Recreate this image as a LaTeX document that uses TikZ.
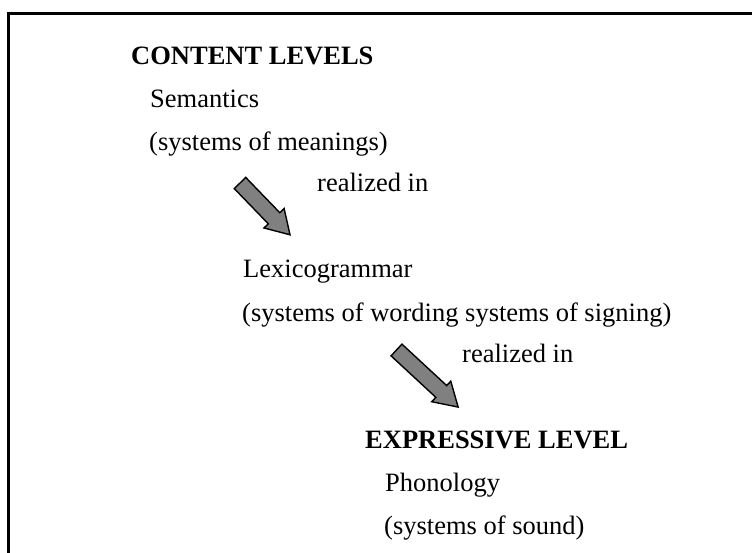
\documentclass[tikz,border=0pt]{standalone}
\usepackage{fontspec}
\setmainfont{Liberation Serif}
\begin{document}
\begin{tikzpicture}[x=1pt,y=-1pt,
  txt/.style={anchor=base west,inner sep=0pt,font=\fontsize{26.5}{30}\selectfont},
  hd/.style={txt,font=\fontsize{26.5}{30}\selectfont\bfseries},
  blockarrow/.style={draw=black,fill=gray,line width=1.4pt,line join=miter}]
\useasboundingbox (0,0) rectangle (752,553);
\draw[line width=3pt] (8,553) -- (8,14) -- (760,14);
\node[hd] (cl) at (131,65) {CONTENT LEVELS};
\node[txt] (sem) at (150,108) {Semantics};
\node[txt] (semd) at (149,151) {(systems of meanings)};
\node[txt] (r1) at (317,192) {realized in};
\node[txt] (lex) at (243,278) {Lexicogrammar};
\node[txt] (lexd) at (242,321) {(systems of wording systems of signing)};
\node[txt] (r2) at (462,362) {realized in};
\node[hd] (el) at (365,448) {EXPRESSIVE LEVEL};
\node[txt] (ph) at (385,491) {Phonology};
\node[txt] (phd) at (384,534) {(systems of sound)};
\begin{scope}[shift={(240,183)},rotate=-46]
\draw[blockarrow] (0,-8) -- (49,-8) -- (49,-14) -- (72,0) -- (49,14) -- (49,8) -- (0,8) -- cycle;
\end{scope}
\begin{scope}[shift={(396.5,350)},rotate=-42.8]
\draw[blockarrow] (0,-8) -- (61,-8) -- (61,-14) -- (84,0) -- (61,14) -- (61,8) -- (0,8) -- cycle;
\end{scope}
\end{tikzpicture}
\end{document}
